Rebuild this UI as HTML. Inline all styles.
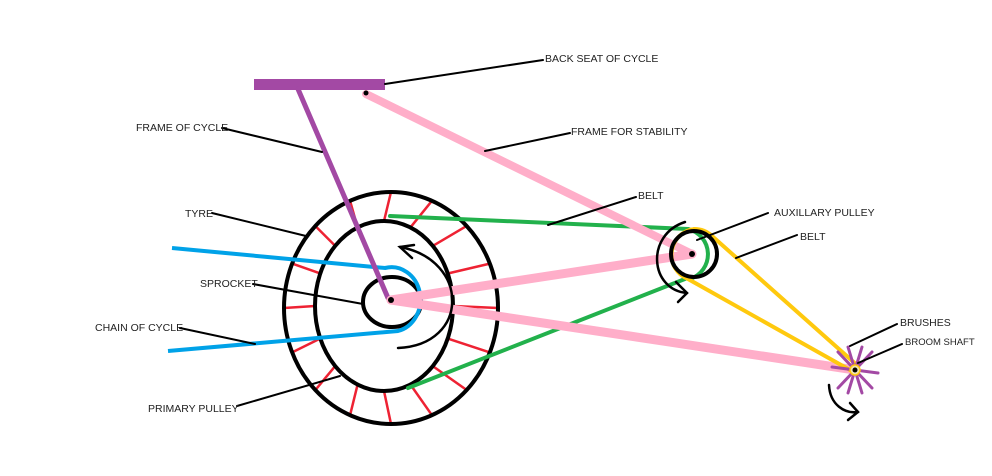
<!DOCTYPE html>
<html><head><meta charset="utf-8"><style>
body{margin:0;background:#fff;width:992px;height:476px;overflow:hidden}
svg{display:block}
text{font-family:"Liberation Sans",sans-serif;font-size:10.5px;fill:#222}
</style></head><body>
<svg id="s" width="992" height="476" viewBox="0 0 992 476">
<g fill="none" stroke-linecap="round">
<g id="spokes" stroke="#ee2233" stroke-width="2.5"></g>
<ellipse cx="391" cy="308" rx="107" ry="116" stroke="#000" stroke-width="4"/>
<ellipse cx="384" cy="306" rx="69" ry="85" stroke="#000" stroke-width="4"/>
<polyline points="390,216 688,229" stroke="#22b14c" stroke-width="4"/>
<polyline points="408,388 690,277" stroke="#22b14c" stroke-width="4"/>
<path d="M688,229 A26,26 0 0 1 690,279" stroke="#22b14c" stroke-width="4"/>
<ellipse cx="392" cy="302" rx="29" ry="25" stroke="#000" stroke-width="4"/>
<path d="M172,248 L385,268 A26,29 0 0 1 398,331 L168,351" stroke="#00a2e8" stroke-width="4" stroke-linecap="butt"/>
<rect x="254" y="79" width="131" height="11" fill="#a349a4" stroke="none"/>
<line x1="298" y1="89" x2="388" y2="298" stroke="#a349a4" stroke-width="5"/>
<line x1="366" y1="94" x2="692" y2="254" stroke="#ffaec9" stroke-width="8"/>
<line x1="391" y1="300" x2="692" y2="254" stroke="#ffaec9" stroke-width="9"/>
<line x1="391" y1="300" x2="855" y2="370" stroke="#ffaec9" stroke-width="9"/>
<path d="M694,229 A26,26 0 0 0 688,279 L850,370 M694,229 A26,26 0 0 1 712,236 L858,366" stroke="#ffc90e" stroke-width="4"/>
<circle cx="694" cy="254" r="23" stroke="#000" stroke-width="4"/>
<g stroke="#a349a4" stroke-width="3">
<line x1="848" y1="347" x2="862" y2="393"/><line x1="832" y1="367" x2="878" y2="373"/>
<line x1="838" y1="352" x2="872" y2="388"/><line x1="838" y1="388" x2="872" y2="352"/>
<line x1="862" y1="347" x2="848" y2="393"/>
</g>
<circle cx="855" cy="370" r="5" fill="#efe4b0" stroke="#ffc90e" stroke-width="1.5"/>
<g stroke="#000" stroke-width="2.5">
<path d="M400,247 C470,260 470,345 398,348"/><path d="M414,245 L400,247 L412,258"/>
<path d="M685,222 C645,235 650,290 687,293"/><path d="M676,282 L687,293 L678,302"/>
<path d="M829,385 C830,405 845,414 858,412"/><path d="M850,403 L858,412 L848,420"/>
</g>
<g stroke="#000" stroke-width="2">
<line x1="385" y1="84" x2="543" y2="60"/>
<line x1="222" y1="128" x2="322" y2="152"/>
<line x1="485" y1="151" x2="570" y2="133"/>
<line x1="548" y1="225" x2="636" y2="197"/>
<line x1="212" y1="213" x2="306" y2="236"/>
<line x1="253" y1="284" x2="363" y2="304"/>
<line x1="180" y1="328" x2="255" y2="344"/>
<line x1="237" y1="406" x2="340" y2="376"/>
<line x1="697" y1="240" x2="768" y2="213"/>
<line x1="736" y1="258" x2="797" y2="235"/>
<line x1="850" y1="346" x2="897" y2="324"/>
<line x1="858" y1="363" x2="902" y2="344"/>
</g>
</g>
<g fill="#000">
<circle cx="366" cy="93" r="2.5"/><circle cx="391" cy="300" r="3"/>
<circle cx="692" cy="254" r="3"/><circle cx="855" cy="370" r="2.5"/>
</g>
<text x="545" y="62">BACK SEAT OF CYCLE</text>
<text x="136" y="131">FRAME OF CYCLE</text>
<text x="571" y="135">FRAME FOR STABILITY</text>
<text x="638" y="199">BELT</text>
<text x="185" y="217">TYRE</text>
<text x="200" y="287">SPROCKET</text>
<text x="95" y="331">CHAIN OF CYCLE</text>
<text x="148" y="412">PRIMARY PULLEY</text>
<text x="774" y="216">AUXILLARY  PULLEY</text>
<text x="800" y="240">BELT</text>
<text x="900" y="326">BRUSHES</text>
<text x="905" y="345" style="font-size:9.5px">BROOM SHAFT</text>
</svg>
<script>
var g=document.getElementById('spokes'),h='';
for(var i=0;i<16;i++){var a=i*Math.PI*2/16;
var x1=384+69*Math.cos(a),y1=306+85*Math.sin(a),x2=391+107*Math.cos(a),y2=308+116*Math.sin(a);
h+='<line x1="'+x1+'" y1="'+y1+'" x2="'+x2+'" y2="'+y2+'"/>';}
g.innerHTML=h;
</script>
</body></html>
